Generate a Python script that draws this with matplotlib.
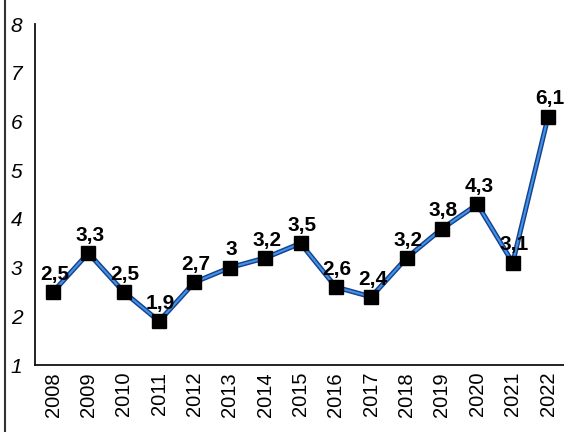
import matplotlib
matplotlib.use("Agg")
import matplotlib.pyplot as plt
from matplotlib.lines import Line2D

years = list(range(2008, 2023))
values = [2.5, 3.3, 2.5, 1.9, 2.7, 3.0, 3.2, 3.5, 2.6, 2.4, 3.2, 3.8, 4.3, 3.1, 6.1]
labels = ["2,5", "3,3", "2,5", "1,9", "2,7", "3", "3,2", "3,5", "2,6", "2,4",
          "3,2", "3,8", "4,3", "3,1", "6,1"]
yticks = [1, 2, 3, 4, 5, 6, 7, 8]

plt.rcParams["font.family"] = ["Liberation Sans", "DejaVu Sans"]

fig = plt.figure(figsize=(5.64, 4.32), dpi=100)
ax = fig.add_axes([0.062, 0.155, 0.938, 0.789])

# two-tone line: dark edge with lighter blue core
ax.plot(years, values, color="#1b3f8f", lw=3.6, zorder=2, solid_capstyle="round")
ax.plot(years, values, color="#3d95e6", lw=1.5, zorder=3, solid_capstyle="round")
ax.plot(years, values, ls="none", marker="s", ms=9.5, color="black", zorder=4)

for x, y, t in zip(years, values, labels):
    ax.annotate(t, (x, y), xytext=(1, 6), textcoords="offset points",
                ha="center", va="bottom", fontsize=15, fontweight="bold", zorder=5)

ax.set_xlim(2007.49, 2022.45)
ax.set_ylim(1, 8)
ax.set_yticks(yticks)
ax.set_yticklabels([str(v) for v in yticks], fontsize=15, style="italic")
ax.set_xticks(years)
ax.set_xticklabels([str(y) for y in years], rotation=90, fontsize=14.5)
ax.tick_params(axis="y", length=0, pad=9)
ax.tick_params(axis="x", length=0, pad=5)

for s in ["top", "right"]:
    ax.spines[s].set_visible(False)
for s in ["left", "bottom"]:
    ax.spines[s].set_linewidth(1.3)
    ax.spines[s].set_color("#111111")

# frame edge on the left side of the clipping
fig.add_artist(Line2D([0.009, 0.009], [0, 1], transform=fig.transFigure,
                      color="#333333", lw=1.5))

fig.savefig("out.png", dpi=100)
